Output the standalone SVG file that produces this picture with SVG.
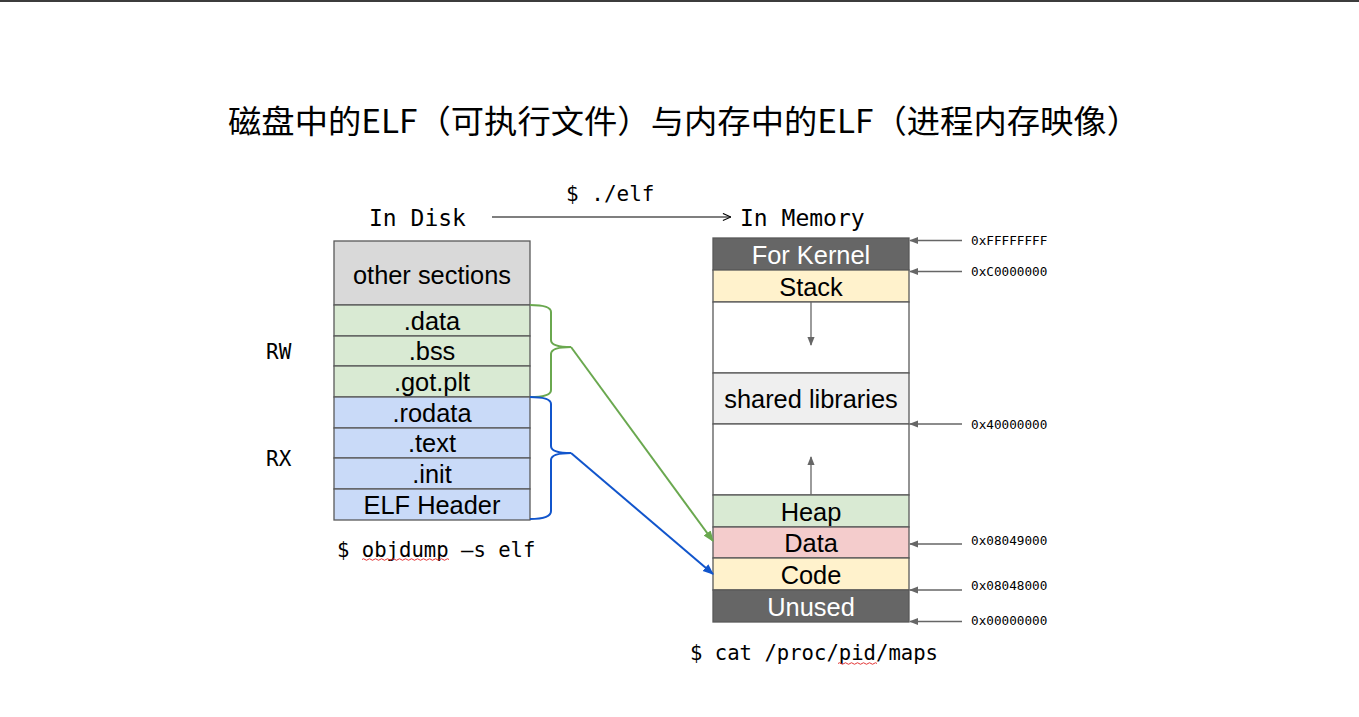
<svg xmlns="http://www.w3.org/2000/svg" width="1359" height="717" viewBox="0 0 1359 717">
<defs>
<style>
.mono{font-family:"DejaVu Sans Mono","Liberation Mono",monospace;fill:#000}
.sans{font-family:"Liberation Sans",Arial,sans-serif;font-size:25.4px;text-anchor:middle;fill:#000}
.w{fill:#fff}
.cell{stroke:#595959;stroke-width:1.3}
.addr{font-family:"DejaVu Sans Mono","Liberation Mono",monospace;font-size:12.7px;fill:#000}
.ga{stroke:#666;stroke-width:1.3;fill:none;marker-end:url(#gh)}
</style>
<marker id="gh" viewBox="0 0 10 10" refX="9" refY="5" markerWidth="9" markerHeight="9" markerUnits="userSpaceOnUse" orient="auto"><path d="M0,1 L10,5 L0,9 Z" fill="#666"/></marker>
<marker id="greenh" viewBox="0 0 10 10" refX="9" refY="5" markerWidth="11" markerHeight="11" markerUnits="userSpaceOnUse" orient="auto"><path d="M0,1 L10,5 L0,9 Z" fill="#6aa84f"/></marker>
<marker id="blueh" viewBox="0 0 10 10" refX="9" refY="5" markerWidth="11" markerHeight="11" markerUnits="userSpaceOnUse" orient="auto"><path d="M0,1 L10,5 L0,9 Z" fill="#1155cc"/></marker>
<marker id="openh" viewBox="0 0 10 10" refX="10" refY="5" markerWidth="9" markerHeight="9" markerUnits="userSpaceOnUse" orient="auto"><path d="M1,1 L10,5 L1,9" fill="none" stroke="#000" stroke-width="1.2"/></marker>
</defs>
<rect x="0" y="0" width="1359" height="717" fill="#fff"/>
<rect x="0" y="0" width="1359" height="2" fill="#3c3c3c"/>

<text x="228" y="133" font-family="'Noto Sans CJK SC','Noto Sans',sans-serif" font-size="32" textLength="912" lengthAdjust="spacingAndGlyphs">磁盘中的ELF（可执行文件）与内存中的ELF（进程内存映像）</text>

<g id="labels">
<text class="mono" x="369" y="226" font-size="23">In Disk</text>
<text class="mono" x="740" y="226" font-size="23">In Memory</text>
<text class="mono" x="566" y="201" font-size="21">$ ./elf</text>
<text class="mono" x="266" y="359" font-size="21">RW</text>
<text class="mono" x="266" y="466" font-size="21">RX</text>
<text class="mono" x="337" y="557" font-size="20.6">$ objdump –s elf</text>
<text class="mono" x="690" y="660" font-size="20.6">$ cat /proc/pid/maps</text>
<path d="M362,559.5 q1.5,-1.5 3,0 t3,0 t3,0 t3,0 t3,0 t3,0 t3,0 t3,0 t3,0 t3,0 t3,0 t3,0 t3,0 t3,0 t3,0 t3,0 t3,0 t3,0 t3,0 t3,0 t3,0 t3,0 t3,0 t3,0 t3,0 t3,0 t3,0 t3,0 t3,0" fill="none" stroke="#e02020" stroke-width="0.9"/>
<path d="M838,663.5 q1.5,-1.5 3,0 t3,0 t3,0 t3,0 t3,0 t3,0 t3,0 t3,0 t3,0 t3,0 t3,0 t3,0 t3,0" fill="none" stroke="#e02020" stroke-width="0.9"/>
</g>

<g id="disk">
<g id="n-other"><rect class="cell" x="334" y="241" width="196" height="64" fill="#d9d9d9"/><text class="sans" x="432" y="283.5">other sections</text></g>
<g id="n-data"><rect class="cell" x="334" y="305" width="196" height="31" fill="#d9ead3"/><text class="sans" x="432" y="329.5">.data</text></g>
<g id="n-bss"><rect class="cell" x="334" y="336" width="196" height="30" fill="#d9ead3"/><text class="sans" x="432" y="360">.bss</text></g>
<g id="n-got"><rect class="cell" x="334" y="366" width="196" height="31" fill="#d9ead3"/><text class="sans" x="432" y="390.5">.got.plt</text></g>
<g id="n-rodata"><rect class="cell" x="334" y="397" width="196" height="31" fill="#c9daf8"/><text class="sans" x="432" y="421.5">.rodata</text></g>
<g id="n-text"><rect class="cell" x="334" y="428" width="196" height="30" fill="#c9daf8"/><text class="sans" x="432" y="452">.text</text></g>
<g id="n-init"><rect class="cell" x="334" y="458" width="196" height="31" fill="#c9daf8"/><text class="sans" x="432" y="482.5">.init</text></g>
<g id="n-elfh"><rect class="cell" x="334" y="489" width="196" height="31" fill="#c9daf8"/><text class="sans" x="432" y="513.5">ELF Header</text></g>
</g>

<g id="memory">
<g id="m-kernel"><rect class="cell" x="713" y="238" width="196" height="32" fill="#666666"/><text class="sans w" x="811" y="263.5">For Kernel</text></g>
<g id="m-stack"><rect class="cell" x="713" y="270" width="196" height="32" fill="#fff2cc"/><text class="sans" x="811" y="295.5">Stack</text></g>
<g id="m-gap1"><rect class="cell" x="713" y="302" width="196" height="71" fill="#fff"/></g>
<g id="m-shared"><rect class="cell" x="713" y="373" width="196" height="51" fill="#efefef"/><text class="sans" x="811" y="407.5">shared libraries</text></g>
<g id="m-gap2"><rect class="cell" x="713" y="424" width="196" height="71" fill="#fff"/></g>
<g id="m-heap"><rect class="cell" x="713" y="495" width="196" height="32" fill="#d9ead3"/><text class="sans" x="811" y="520.5">Heap</text></g>
<g id="m-data"><rect class="cell" x="713" y="527" width="196" height="31" fill="#f4cccc"/><text class="sans" x="811" y="551.5">Data</text></g>
<g id="m-code"><rect class="cell" x="713" y="558" width="196" height="32" fill="#fff2cc"/><text class="sans" x="811" y="583.5">Code</text></g>
<g id="m-unused"><rect class="cell" x="713" y="590" width="196" height="32" fill="#666666"/><text class="sans w" x="811" y="615.5">Unused</text></g>
</g>

<g id="addresses">
<text class="addr" x="971" y="244.5">0xFFFFFFFF</text>
<text class="addr" x="971" y="275.5">0xC0000000</text>
<text class="addr" x="971" y="428.5">0x40000000</text>
<text class="addr" x="971" y="545">0x08049000</text>
<text class="addr" x="971" y="590">0x08048000</text>
<text class="addr" x="971" y="625">0x00000000</text>
</g>

<g id="connectors">
<line x1="492" y1="217" x2="731" y2="217" stroke="#000" stroke-width="1.2" marker-end="url(#openh)"/>
<line class="ga" x1="811" y1="302" x2="811" y2="345"/>
<line class="ga" x1="811" y1="495" x2="811" y2="457"/>
<line class="ga" x1="962" y1="240.5" x2="910" y2="240.5"/>
<line class="ga" x1="962" y1="271.5" x2="910" y2="271.5"/>
<line class="ga" x1="962" y1="424" x2="910" y2="424"/>
<line class="ga" x1="962" y1="544" x2="910" y2="544"/>
<line class="ga" x1="962" y1="590" x2="910" y2="590"/>
<line class="ga" x1="962" y1="621.5" x2="910" y2="621.5"/>
<path d="M530,305 Q551,305 551,312 L551,340 Q551,347 571,347 Q551,347 551,354 L551,390 Q551,397 530,397" fill="none" stroke="#6aa84f" stroke-width="2"/>
<path d="M530,397 Q551,397 551,404 L551,446 Q551,453 571,453 Q551,453 551,460 L551,511 Q551,519 530,519" fill="none" stroke="#1155cc" stroke-width="2"/>
<line x1="571" y1="347" x2="713" y2="541" stroke="#6aa84f" stroke-width="2" marker-end="url(#greenh)"/>
<line x1="571" y1="453" x2="713" y2="574" stroke="#1155cc" stroke-width="2" marker-end="url(#blueh)"/>
</g>
</svg>
